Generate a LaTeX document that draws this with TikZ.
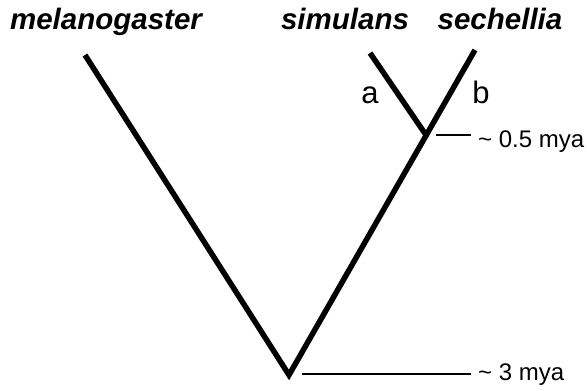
\documentclass[tikz,border=0pt]{standalone}
\usepackage{fontspec}
\setmainfont{Liberation Sans}

\tikzset{
	species/.style={anchor=base, inner sep=0pt, font=\fontsize{29.5}{30}\selectfont\bfseries\itshape},
	branchlabel/.style={anchor=base, inner sep=0pt, font=\fontsize{31}{32}\selectfont},
	agelabel/.style={anchor=base west, inner sep=0pt, font=\fontsize{24}{26}\selectfont},
	branch/.style={line width=5.5pt, line join=miter},
	tick/.style={line width=1.4pt}
}

\begin{document}
\begin{tikzpicture}[x=1pt, y=-1pt]
	\useasboundingbox (0, 0) rectangle (587, 391);

	% tree
	\coordinate (mel) at (85, 55);
	\coordinate (sim) at (370, 53);
	\coordinate (sec) at (475, 50);
	\coordinate (root) at (289, 375);
	\coordinate (split) at (426, 135);
	\draw [branch] (mel) -- (root) -- (sec);
	\draw [branch] (sim) -- (split);

	% species names
	\node [species] (melname) at (106, 29) {melanogaster};
	\node [species] (simname) at (345, 29) {simulans};
	\node [species] (secname) at (500, 29) {sechellia};

	% branch names
	\node [branchlabel] (a) at (370, 103) {a};
	\node [branchlabel] (b) at (481, 103) {b};

	% ages
	\coordinate (t1) at (436, 135);
	\coordinate (t2) at (302, 374);
	\node [agelabel] (age1) at (478, 147) {\char"007E{} 0.5 mya};
	\node [agelabel] (age2) at (478, 380) {\char"007E{} 3 mya};
	\draw [tick] (t1) -- ([xshift=-7pt]t1 -| age1.west);
	\draw [tick] (t2) -- ([xshift=-7pt]t2 -| age2.west);
\end{tikzpicture}
\end{document}
